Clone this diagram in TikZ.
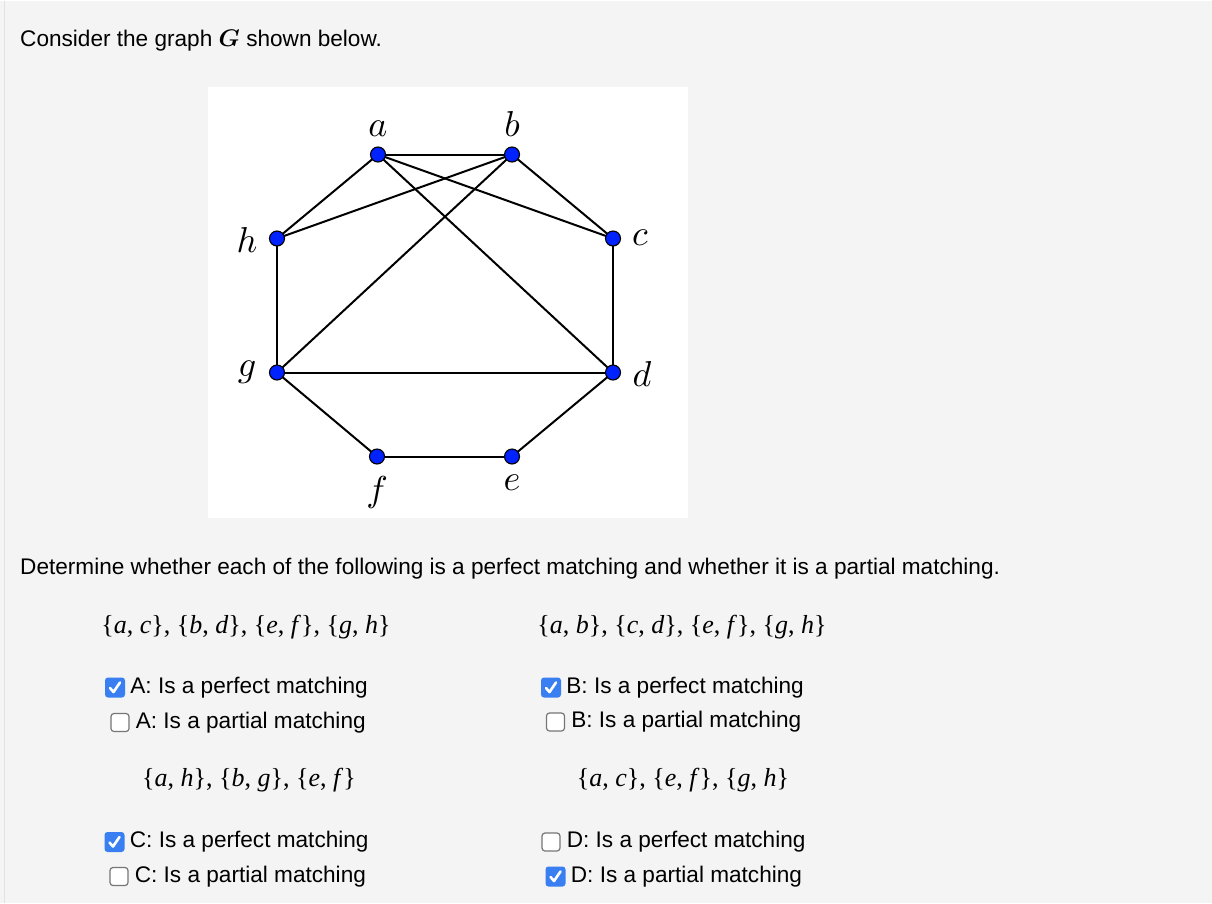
\documentclass[tikz,border=0pt]{standalone}
\usepackage{fontspec}
\usepackage{amsmath}
\usepackage{bm}
\usepackage{graphicx}
\setmainfont{Liberation Sans}
\newfontfamily\setsfont{Liberation Serif}
\usepackage{tikz}
\usetikzlibrary{positioning}
\pgfdeclarelayer{bglayer}
\pgfdeclarelayer{edgelayer}
\pgfdeclarelayer{nodelayer}
\pgfsetlayers{bglayer,edgelayer,nodelayer,main}
\definecolor{pagegrey}{HTML}{F4F4F4}
\definecolor{pageedge}{HTML}{E2E2E2}
\definecolor{dotblue}{HTML}{0022FF}
\definecolor{tickblue}{HTML}{3A7FF2}
\definecolor{boxgrey}{HTML}{767676}
\newcommand{\pair}[2]{\{\textit{#1}, \textit{#2}\}}
\newcommand{\gap}{,\hspace{0.25em}}
\newcommand{\vname}[1]{\scalebox{3.6}{$#1$}}

\begin{document}
\begin{tikzpicture}[x=1pt, y=-1pt,
  vertex/.style={circle, draw=black, fill=dotblue, line width=1.1pt, minimum size=15pt, inner sep=0pt},
  vlabel/.style={font=\fontsize{10}{12}\selectfont, inner sep=0pt},
  edge/.style={line width=2pt},
  body/.style={font=\fontsize{22.6}{27}\selectfont, inner sep=0pt},
  setnode/.style={font=\setsfont\fontsize{26}{30}\selectfont, inner sep=0pt},
  ticked/.style={rectangle, rounded corners=3pt, fill=tickblue, minimum size=20pt, inner sep=0pt},
  unticked/.style={rectangle, rounded corners=3pt, draw=boxgrey, fill=white, line width=1.2pt, minimum size=18pt, inner sep=0pt},
  tick/.style={white, line width=2.6pt, line cap=round, line join=round}]
  \begin{pgfonlayer}{bglayer}
    \fill [pagegrey] (0,0) rectangle (1212,902);
    \draw [pageedge, line width=1pt] (4.5,0) -- (4.5,902);
    \fill [white] (208,86) rectangle (688,517);
  \end{pgfonlayer}
  \useasboundingbox (0,0) rectangle (1212,902);

  \begin{pgfonlayer}{nodelayer}
    \node [vertex] (a) at (378,154) {};
    \node [vertex] (b) at (512,154) {};
    \node [vertex] (c) at (613,238) {};
    \node [vertex] (d) at (613,372) {};
    \node [vertex] (e) at (512,456) {};
    \node [vertex] (f) at (377,456) {};
    \node [vertex] (g) at (277,372) {};
    \node [vertex] (h) at (277,238) {};
    \node [vlabel] (la) at (378,128) {\vname{a}};
    \node [vlabel] (lb) at (512,123) {\vname{b}};
    \node [vlabel] (lc) at (640,237) {\vname{c}};
    \node [vlabel] (ld) at (642,373) {\vname{d}};
    \node [vlabel] (le) at (512,482) {\vname{e}};
    \node [vlabel] (lf) at (377,492) {\vname{f}};
    \node [vlabel] (lg) at (247,372) {\vname{g}};
    \node [vlabel] (lh) at (247,239) {\vname{h}};
  \end{pgfonlayer}
  \begin{pgfonlayer}{edgelayer}
    \foreach \u/\v in {a/b,a/h,a/c,a/d,b/h,b/c,b/g,h/g,c/d,g/d,g/f,f/e,e/d}
      \draw [edge] (\u.center) -- (\v.center);
  \end{pgfonlayer}

  % question text
  \node [body, anchor=base west] (intro) at (20,46) {Consider the graph {\fontsize{10}{12}\selectfont\scalebox{2.4}{$\bm{G}$}} shown below.};
  \node [body, anchor=base west] (task) at (20,574) {Determine whether each of the following is a perfect matching and whether it is a partial matching.};

  % the four edge sets
  \node [setnode, anchor=base] (setA) at (246,633) {\pair{a}{c}\gap\pair{b}{d}\gap\pair{e}{f}\gap\pair{g}{h}};
  \node [setnode, anchor=base] (setB) at (682,633) {\pair{a}{b}\gap\pair{c}{d}\gap\pair{e}{f}\gap\pair{g}{h}};
  \node [setnode, anchor=base] (setC) at (249,786) {\pair{a}{h}\gap\pair{b}{g}\gap\pair{e}{f}};
  \node [setnode, anchor=base] (setD) at (683,786) {\pair{a}{c}\gap\pair{e}{f}\gap\pair{g}{h}};

  % answer boxes
  \node [ticked] (boxA1) at (115,687) {};
  \node [unticked] (boxA2) at (120,722) {};
  \node [ticked] (boxB1) at (551,687) {};
  \node [unticked] (boxB2) at (555.5,721.5) {};
  \node [ticked] (boxC1) at (114.5,841.5) {};
  \node [unticked] (boxC2) at (119,876) {};
  \node [unticked] (boxD1) at (551,841.5) {};
  \node [ticked] (boxD2) at (555.5,876) {};
  \node [body, right=5pt of boxA1] (optA1) {A: Is a perfect matching};
  \node [body, right=6pt of boxA2] (optA2) {A: Is a partial matching};
  \node [body, right=5pt of boxB1] (optB1) {B: Is a perfect matching};
  \node [body, right=6pt of boxB2] (optB2) {B: Is a partial matching};
  \node [body, right=5pt of boxC1] (optC1) {C: Is a perfect matching};
  \node [body, right=6pt of boxC2] (optC2) {C: Is a partial matching};
  \node [body, right=6pt of boxD1] (optD1) {D: Is a perfect matching};
  \node [body, right=5pt of boxD2] (optD2) {D: Is a partial matching};
  \foreach \b in {boxA1,boxB1,boxC1,boxD2}
    \draw [tick] ([shift={(-5,0.5)}]\b.center) -- ([shift={(-1.5,4.5)}]\b.center) -- ([shift={(5,-5)}]\b.center);
\end{tikzpicture}
\end{document}
